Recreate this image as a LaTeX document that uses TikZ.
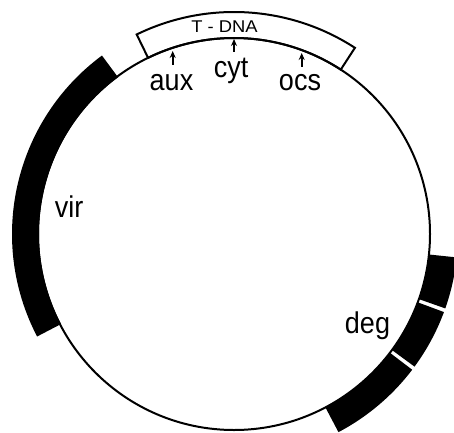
\documentclass[tikz,border=0pt]{standalone}
\usepackage{fontspec}
\setmainfont{Liberation Sans}
\usetikzlibrary{arrows.meta}
\newcommand\bandseg[4]{% start angle, end angle, inner r, outer r
  \fill (#1:#3) arc[start angle=#1, end angle=#2, radius=#3] -- (#2:#4) arc[start angle=#2, end angle=#1, radius=#4] -- cycle;}
\begin{document}
\begin{tikzpicture}[x=1pt,y=1pt,
  lbl/.style={font=\fontsize{30}{30}\selectfont, xscale=0.9, transform shape, anchor=base, inner sep=0pt},
  small/.style={font=\fontsize{17}{17}\selectfont, xscale=1.08, transform shape, anchor=base, inner sep=0pt},
  ring/.style={line width=2pt},
  pointer/.style={line width=1.7pt, -{Stealth[length=7pt,width=6pt]}}]
\useasboundingbox (0,0) rectangle (454,432);
\clip (0,0) rectangle (454,432);
\fill[white] (0,0) rectangle (454,432);
\begin{scope}[shift={(234,198)}]
  \coordinate (C) at (0,0);
  \draw[ring] (C) circle[radius=196];
  % T-DNA box
  \draw[ring, line join=miter] (57:196) arc[start angle=57, end angle=116, radius=196] -- (116:222) arc[start angle=116, end angle=57, radius=222] -- cycle;
  % vir
  \bandseg{126.5}{207.5}{195}{222}
  % deg blocks
  \bandseg{-6}{-19.4}{196}{224}
  \bandseg{-20.4}{-36.3}{196}{224}
  \bandseg{-37.3}{-62.2}{196}{224}
\end{scope}
\node[small] (tdna) at (224.5,399) {T - DNA};
\node[lbl] (aux) at (171.5,342) {aux};
\node[lbl] (cyt) at (231,355) {cyt};
\node[lbl] (ocs) at (300,342) {ocs};
\node[lbl] (vir) at (69,215) {vir};
\node[lbl] (deg) at (367.5,99) {deg};
\coordinate (auxs) at (172.7,367);
\coordinate (auxt) at (172.7,381);
\coordinate (cyts) at (234,380);
\coordinate (cytt) at (234,393);
\coordinate (ocss) at (301.7,365);
\coordinate (ocst) at (301.7,379);
\draw[pointer] (auxs) -- (auxt);
\draw[pointer] (cyts) -- (cytt);
\draw[pointer] (ocss) -- (ocst);
\end{tikzpicture}
\end{document}
